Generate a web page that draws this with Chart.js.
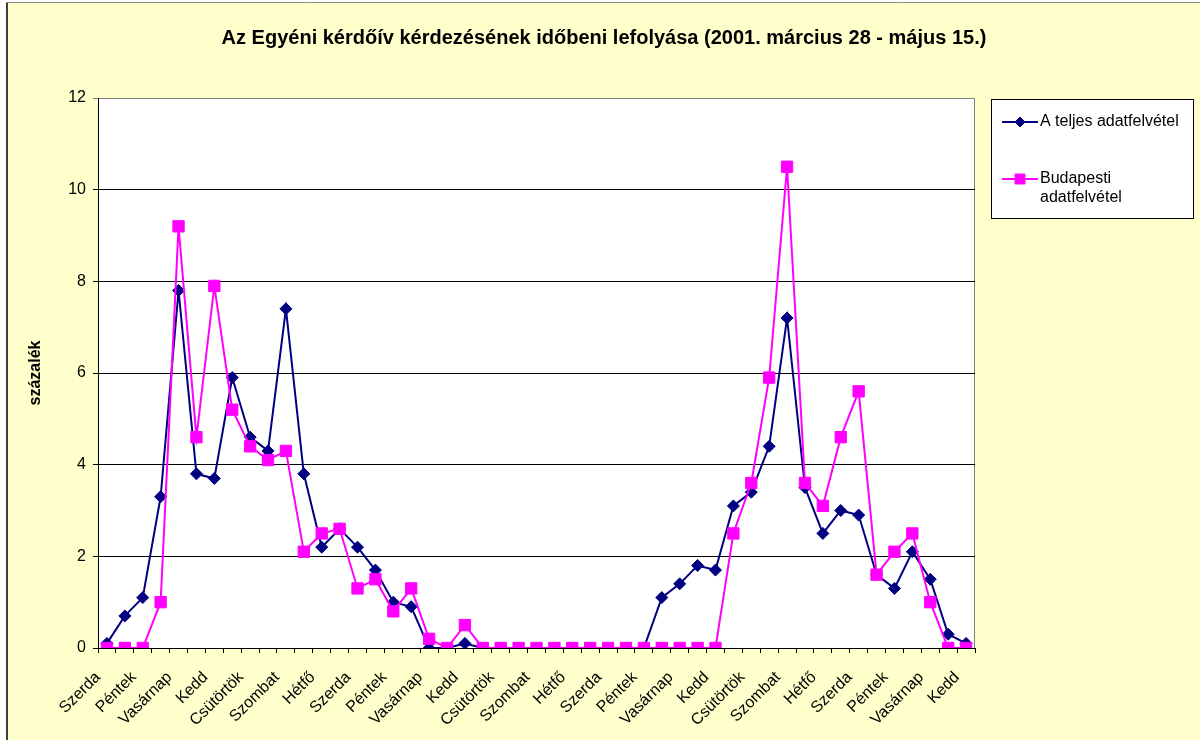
<!DOCTYPE html>
<html>
<head>
<meta charset="utf-8">
<script src="https://cdn.jsdelivr.net/npm/chart.js@4/dist/chart.umd.min.js"></script>
<style>
  html, body { margin: 0; padding: 0; background: #fff; }
  #wrap { width: 1200px; height: 740px; }
</style>
</head>
<body>
<div id="wrap"><canvas id="chart" width="1200" height="740"></canvas></div>
<script>
// 2001. március 28 (szerda) - május 15 (kedd), napi bontás
const days = [
  'Szerda', 'Csütörtök', 'Péntek', 'Szombat', 'Vasárnap', 'Hétfő', 'Kedd',
  'Szerda', 'Csütörtök', 'Péntek', 'Szombat', 'Vasárnap', 'Hétfő', 'Kedd',
  'Szerda', 'Csütörtök', 'Péntek', 'Szombat', 'Vasárnap', 'Hétfő', 'Kedd',
  'Szerda', 'Csütörtök', 'Péntek', 'Szombat', 'Vasárnap', 'Hétfő', 'Kedd',
  'Szerda', 'Csütörtök', 'Péntek', 'Szombat', 'Vasárnap', 'Hétfő', 'Kedd',
  'Szerda', 'Csütörtök', 'Péntek', 'Szombat', 'Vasárnap', 'Hétfő', 'Kedd',
  'Szerda', 'Csütörtök', 'Péntek', 'Szombat', 'Vasárnap', 'Hétfő', 'Kedd'
];

const teljes = [
  0.1, 0.7, 1.1, 3.3, 7.8, 3.8, 3.7,
  5.9, 4.6, 4.3, 7.4, 3.8, 2.2, 2.6,
  2.2, 1.7, 1.0, 0.9, 0, 0, 0.1,
  0, 0, 0, 0, 0, 0, 0,
  0, 0, 0, 1.1, 1.4, 1.8, 1.7,
  3.1, 3.4, 4.4, 7.2, 3.5, 2.5, 3.0,
  2.9, 1.6, 1.3, 2.1, 1.5, 0.3, 0.1
];

const budapest = [
  0, 0, 0, 1.0, 9.2, 4.6, 7.9,
  5.2, 4.4, 4.1, 4.3, 2.1, 2.5, 2.6,
  1.3, 1.5, 0.8, 1.3, 0.2, 0, 0.5,
  0, 0, 0, 0, 0, 0, 0,
  0, 0, 0, 0, 0, 0, 0,
  2.5, 3.6, 5.9, 10.5, 3.6, 3.1, 4.6,
  5.6, 1.6, 2.1, 2.5, 1.0, 0, 0
];

const seriesNames = ['A teljes adatfelvétel', 'Budapesti adatfelvétel'];
const title = 'Az Egyéni kérdőív kérdezésének időbeni lefolyása (2001. március 28 - május 15.)';
const yTitle = 'százalék';

const FONT = 'Arial, "Liberation Sans", sans-serif';
Chart.defaults.font.family = FONT;
Chart.defaults.color = '#000';

// background, frame, title, axis title and legend (Excel style)
const decor = {
  id: 'decor',
  beforeDraw(chart) {
    const { ctx, chartArea: a } = chart;
    ctx.save();
    ctx.fillStyle = '#fff';
    ctx.fillRect(0, 0, 1200, 740);
    ctx.fillStyle = '#FFFFCC';
    ctx.fillRect(6, 3, 1194, 737);
    ctx.strokeStyle = '#8c8c8c';
    ctx.lineWidth = 1;
    ctx.beginPath();
    ctx.moveTo(6, 2.5); ctx.lineTo(1200, 2.5);
    ctx.stroke();
    ctx.strokeStyle = '#404040';
    ctx.lineWidth = 2;
    ctx.beginPath();
    ctx.moveTo(7, 3); ctx.lineTo(7, 740);
    ctx.stroke();
    ctx.fillStyle = '#fff';
    ctx.fillRect(a.left, a.top, a.right - a.left, a.bottom - a.top);
    ctx.strokeStyle = '#808080';
    ctx.lineWidth = 1;
    ctx.strokeRect(a.left + 0.5, a.top + 0.5, a.right - a.left - 1, a.bottom - a.top);
    ctx.restore();
  },
  afterDraw(chart) {
    const { ctx, chartArea: a } = chart;
    ctx.save();
    ctx.fillStyle = '#000';
    ctx.textAlign = 'center';
    ctx.textBaseline = 'middle';
    ctx.font = 'bold 20px ' + FONT;
    ctx.fillText(title, 604, 38);

    ctx.save();
    ctx.translate(36, (a.top + a.bottom) / 2);
    ctx.rotate(-Math.PI / 2);
    ctx.font = 'bold 16px ' + FONT;
    ctx.fillText(yTitle, 0, 0);
    ctx.restore();

    // legend
    ctx.fillStyle = '#fff';
    ctx.fillRect(991, 99, 202, 119);
    ctx.strokeStyle = '#000';
    ctx.lineWidth = 1;
    ctx.strokeRect(991.5, 99.5, 202, 119);
    const rows = [[122], [179, 198]];
    chart.data.datasets.forEach((ds, i) => {
      const y = rows[i][0];
      ctx.strokeStyle = ds.borderColor;
      ctx.lineWidth = 2;
      ctx.beginPath();
      ctx.moveTo(1002, y); ctx.lineTo(1038, y);
      ctx.stroke();
      ctx.fillStyle = ds.backgroundColor;
      ctx.lineWidth = 1;
      Chart.helpers.drawPoint(ctx, {
        pointStyle: ds.pointStyle, radius: ds.pointRadius - 1, borderWidth: 1, rotation: 0
      }, 1020, y);
      ctx.fillStyle = '#000';
      ctx.textAlign = 'left';
      ctx.font = '16px ' + FONT;
      const words = ds.label.split(' ');
      if (rows[i].length === 1) {
        ctx.fillText(ds.label, 1040, y);
      } else {
        ctx.fillText(words[0], 1040, rows[i][0]);
        ctx.fillText(words.slice(1).join(' '), 1040, rows[i][1]);
      }
    });
    ctx.restore();
  }
};

new Chart(document.getElementById('chart'), {
  type: 'line',
  data: {
    labels: days,
    datasets: [
      {
        label: seriesNames[0],
        data: teljes,
        borderColor: '#000080',
        backgroundColor: '#000080',
        borderWidth: 2,
        pointStyle: 'rectRot',
        pointRadius: 6,
        pointBorderWidth: 1,
        tension: 0,
        order: 1
      },
      {
        label: seriesNames[1],
        data: budapest,
        borderColor: '#FF00FF',
        backgroundColor: '#FF00FF',
        borderWidth: 2,
        pointStyle: 'rect',
        pointRadius: 8,
        pointBorderWidth: 1,
        tension: 0,
        order: 0
      }
    ]
  },
  options: {
    responsive: false,
    animation: false,
    devicePixelRatio: 1,
    layout: { padding: { left: 0, top: 98, right: 225, bottom: 0 } },
    plugins: {
      legend: { display: false },
      title: { display: false },
      tooltip: { enabled: false }
    },
    scales: {
      x: {
        offset: true,
        grid: { offset: true, drawOnChartArea: false, tickLength: 5, color: '#000' },
        border: { color: '#000', width: 1 },
        ticks: {
          autoSkip: false,
          maxRotation: 45,
          minRotation: 45,
          padding: 15,
          labelOffset: -9,
          font: { size: 16 },
          callback(v, i) { return i % 2 === 0 ? this.getLabelForValue(v) : ''; }
        },
        afterFit(scale) { scale.height = 92; }
      },
      y: {
        min: 0,
        max: 12,
        grid: {
          tickLength: 5,
          color: (c) => (c.tick && c.tick.value === 12 ? '#808080' : '#000')
        },
        border: { color: '#000', width: 1 },
        ticks: { stepSize: 2, padding: 7, font: { size: 16 } },
        afterFit(scale) { scale.width = 98; }
      }
    }
  },
  plugins: [decor]
});
</script>
</body>
</html>
